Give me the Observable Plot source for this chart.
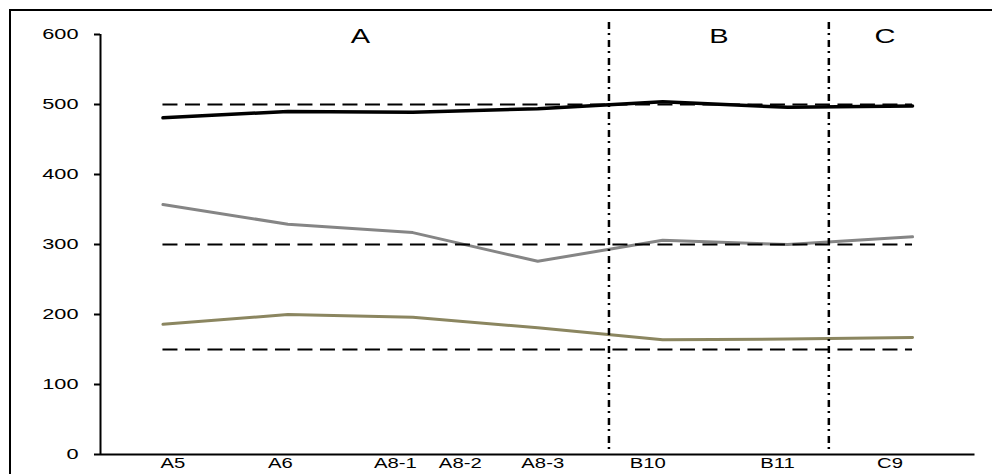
<!DOCTYPE html>
<html>
<head>
<meta charset="utf-8">
<script src="https://cdn.jsdelivr.net/npm/d3@7"></script>
<script src="https://cdn.jsdelivr.net/npm/@observablehq/plot@0.6"></script>
<style>
  html, body { margin: 0; padding: 0; background: #fff; overflow: hidden; width: 992px; height: 474px; }
  #wrap { position: relative; width: 992px; height: 474px; }
  #frame { position: absolute; left: 9px; top: 9px; width: 1100px; height: 600px;
           border-left: 2.5px solid #000; border-top: 2px solid #000; pointer-events: none; }
  #chart { position: absolute; left: 0; top: 0; }
  svg { font-family: "Liberation Sans", Arial, Helvetica, sans-serif; }
</style>
</head>
<body>
<div id="wrap"><div id="chart"></div><div id="frame"></div></div>
<script>
// ---- data ----
const pointIndex = [0, 1, 2, 3, 4, 5, 6];
const seriesBlack = [481, 490, 489, 494, 504, 496, 498];
const seriesGrey  = [357, 329, 317, 276, 306, 300, 311];
const seriesOlive = [186, 200, 196, 181, 164, 165, 167];

const tickLabels = ["A5", "A6", "A8-1", "A8-2", "A8-3", "B10", "B11", "C9"];
const tickAt     = [0.08, 0.94, 1.86, 2.38, 3.04, 3.88, 4.92, 5.82];

const groupLabels = ["A", "B", "C"];
const groupAt     = [1.58, 4.45, 5.78];
const groupBounds = [3.57, 5.33];

const referenceLevels = [500, 300, 150];
const yTicks = [0, 100, 200, 300, 400, 500, 600];

// ---- build ----
const toRows = (vals) => pointIndex.map((i, k) => ({x: i, y: vals[k]}));
const first = pointIndex[0], last = pointIndex[pointIndex.length - 1];

const plot = Plot.plot({
  width: 992,
  height: 474,
  marginLeft: 100,
  marginRight: 17.5,
  marginTop: 34,
  marginBottom: 20,
  x: {domain: [first - 0.5, last + 0.5], axis: null},
  y: {domain: [0, 600], axis: null},
  marks: [
    Plot.line(toRows(seriesOlive), {x: "x", y: "y", stroke: "#8b8660", strokeWidth: 3}),
    Plot.line(toRows(seriesGrey),  {x: "x", y: "y", stroke: "#858585", strokeWidth: 3}),
    Plot.line(toRows(seriesBlack), {x: "x", y: "y", stroke: "#000", strokeWidth: 3.5}),
    Plot.ruleY(referenceLevels, {x1: first, x2: last, stroke: "#000", strokeWidth: 2, strokeDasharray: "15,7.5"}),
    Plot.ruleX(groupBounds, {stroke: "#000", strokeWidth: 2.5, strokeDasharray: "7,4,2,5", insetTop: -12}),
    Plot.ruleX([first - 0.5], {y1: 0, y2: 600, stroke: "#000", strokeWidth: 2}),
    Plot.ruleY([0], {stroke: "#000", strokeWidth: 2}),
    Plot.axisY(yTicks, {tickSize: 6, tickPadding: 16, strokeWidth: 2, fontSize: 15, label: null, fill: "#000"}),
    Plot.text(tickLabels, {x: (d, i) => tickAt[i], frameAnchor: "bottom", lineAnchor: "top", dy: 4, fontSize: 14, fill: "#000"}),
    Plot.text(groupLabels, {x: (d, i) => groupAt[i], frameAnchor: "top", dy: -6, fontSize: 20, fill: "#000"})
  ]
});

// widen glyphs horizontally like the reference (scale about each text's anchor)
plot.querySelectorAll("text").forEach(t => {
  const ax = parseFloat(t.getAttribute("x")) || 0;
  const ay = parseFloat(t.getAttribute("y")) || 0;
  const tr = t.getAttribute("transform") || "";
  t.setAttribute("transform", `${tr} translate(${ax},${ay}) scale(1.45,1) translate(${-ax},${-ay})`);
});

document.getElementById("chart").appendChild(plot);
</script>
</body>
</html>
